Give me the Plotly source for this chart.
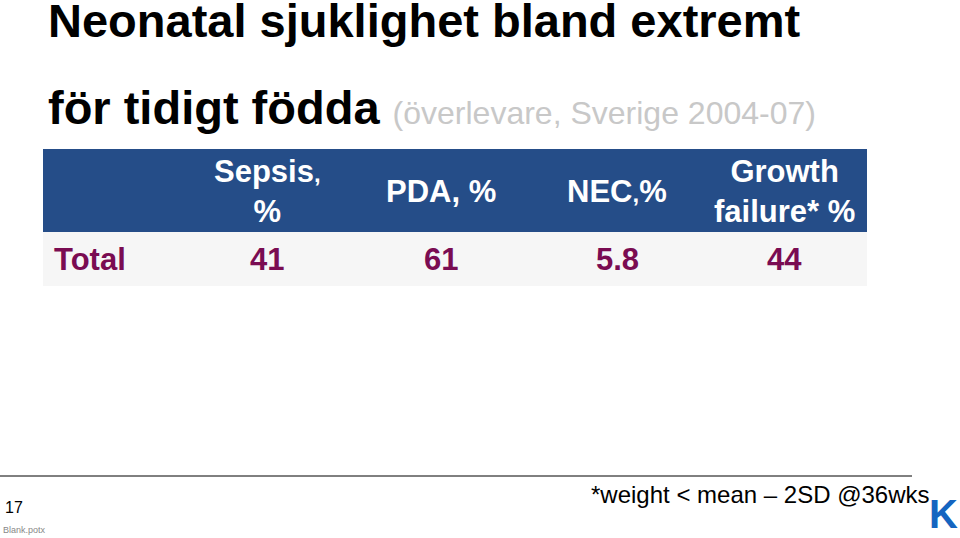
import plotly.graph_objects as go

columns = ["Sepsis<span style='font-size:24px'>,</span><br>%", "PDA, %", "NEC<span style='font-size:24px'>,</span>%", "Growth<br>failure* %"]
row_label = "Total"
values = ["41", "61", "5.8", "44"]
col_centers = [267, 441, 617, 784]

fig = go.Figure()
fig.add_trace(go.Scatter(x=[0], y=[0], mode="markers", marker=dict(opacity=0), hoverinfo="skip", showlegend=False))
shapes = [
    dict(type="rect", x0=43, x1=867, y0=149, y1=232, fillcolor="#254d88", line_width=0, layer="below"),
    dict(type="rect", x0=43, x1=867, y0=232, y1=286, fillcolor="#f6f6f6", line_width=0, layer="below"),
    dict(type="line", x0=0, x1=912, y0=476, y1=476, line=dict(color="black", width=1)),
]
ann = []
F = "Liberation Sans, Arial"
ann.append(dict(x=46, y=20, text="<b>Neonatal sjuklighet bland extremt</b>", xanchor="left", font=dict(size=47, color="black", family=F)))
ann.append(dict(x=46, y=107, text="<b>för tidigt födda</b> <span style='font-size:32px;color:#c8c8c8'>(överlevare, Sverige 2004-07)</span>", xanchor="left", font=dict(size=47, color="black", family=F)))
for c, t in zip(col_centers, columns):
    ann.append(dict(x=c, y=191, text="<b>"+t+"</b>", font=dict(size=31, color="white", family=F)))
ann.append(dict(x=52, y=259, text="<b>"+row_label+"</b>", xanchor="left", font=dict(size=31, color="#7a0c52", family=F)))
for c, v in zip(col_centers, values):
    ann.append(dict(x=c, y=259, text="<b>"+v+"</b>", font=dict(size=31, color="#7a0c52", family=F)))
ann.append(dict(x=932, y=494, text="*weight < mean – 2SD @36wks", xanchor="right", font=dict(size=24, color="black", family=F)))
ann.append(dict(x=3, y=507, text="17", xanchor="left", font=dict(size=16, color="black", family=F)))
ann.append(dict(x=1, y=530, text="Blank.potx", xanchor="left", font=dict(size=9, color="#888888", family=F)))
ann.append(dict(x=943, y=514, text="<b>K</b>", font=dict(size=40, color="#1565c0", family=F)))
for a in ann:
    a.update(xref="x", yref="y", showarrow=False)
fig.update_layout(width=960, height=538, margin=dict(l=0, r=0, t=0, b=0),
                  plot_bgcolor="white", paper_bgcolor="white", shapes=shapes, annotations=ann,
                  xaxis=dict(range=[0, 960], visible=False, fixedrange=True),
                  yaxis=dict(range=[538, 0], visible=False, fixedrange=True))
fig.write_html("out.html", post_script="document.body.style.margin='0';document.body.style.overflow='hidden';",
               config={"displayModeBar": False})
